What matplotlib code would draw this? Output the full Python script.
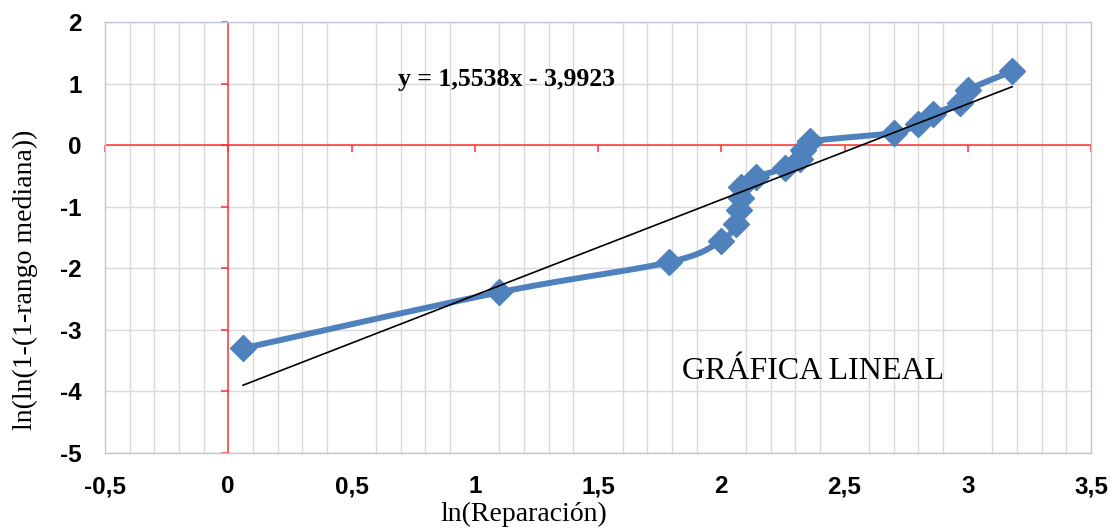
import numpy as np
import matplotlib
matplotlib.use('Agg')
import matplotlib.pyplot as plt
from matplotlib.path import Path

# ln(repair time) and ln(ln(1/(1-median rank)))
ln_reparacion = [0.06, 1.10, 1.79, 2.00, 2.06, 2.07, 2.08, 2.08, 2.14, 2.26,
                 2.32, 2.33, 2.36, 2.70, 2.80, 2.86, 2.97, 3.00, 3.18]
ln_rango = [-3.30, -2.39, -1.90, -1.55, -1.28, -1.06, -0.86, -0.68, -0.52, -0.37,
            -0.22, -0.08, 0.06, 0.20, 0.35, 0.51, 0.68, 0.89, 1.20]

# trend line shown on the chart
slope = 1.5538
intercept = -3.9923
equation = 'y = 1,5538x - 3,9923'

x_ticks = [-0.5, 0, 0.5, 1, 1.5, 2, 2.5, 3, 3.5]
x_tick_labels = ['-0,5', '0', '0,5', '1', '1,5', '2', '2,5', '3', '3,5']
y_ticks = [-5, -4, -3, -2, -1, 0, 1, 2]
y_tick_labels = ['-5', '-4', '-3', '-2', '-1', '0', '1', '2']

BLUE = '#4F81BD'
RED = '#FF3030'
GRID = '#D9D9D9'
BORDER = '#BCC8DA'


def smooth(xs, ys, steps=25):
    # excel-like smoothed line (bezier through every point)
    pts = np.column_stack([xs, ys])
    p = np.vstack([pts[0], pts, pts[-1]])
    out = []
    t = np.linspace(0, 1, steps)[:, None]
    for i in range(1, len(p) - 2):
        p0, p1, p2, p3 = p[i - 1], p[i], p[i + 1], p[i + 2]
        c1 = p1 + (p2 - p0) / 6
        c2 = p2 - (p3 - p1) / 6
        seg = (1 - t)**3 * p1 + 3 * (1 - t)**2 * t * c1 + 3 * (1 - t) * t**2 * c2 + t**3 * p2
        out.append(seg)
    return np.vstack(out)


fig = plt.figure(figsize=(11.19, 5.28), dpi=100)
ax = fig.add_axes([105 / 1119, 1 - 453 / 528, (1091 - 105) / 1119, (453 - 22) / 528])

ax.set_xlim(-0.5, 3.5)
ax.set_ylim(-5, 2)

# grid
ax.set_xticks(np.arange(-0.5, 3.51, 0.1), minor=True)
ax.grid(True, which='minor', axis='x', color=GRID, lw=1)
ax.grid(True, which='major', axis='y', color=GRID, lw=1)
ax.set_axisbelow(True)
for s in ax.spines.values():
    s.set_color(BORDER)
    s.set_linewidth(1)

ax.set_xticks(x_ticks)
ax.set_xticklabels(x_tick_labels)
ax.set_yticks(y_ticks)
ax.set_yticklabels(y_tick_labels)
ax.tick_params(which='both', length=0)
ax.tick_params(axis='x', pad=16)
ax.tick_params(axis='y', pad=17)
for lbl in ax.get_xticklabels() + ax.get_yticklabels():
    lbl.set_fontfamily('Liberation Sans')
    lbl.set_fontweight('bold')
    lbl.set_fontsize(17.5)

# red axes through the origin with their small ticks
ax.axhline(0, color=RED, lw=1.1, zorder=1.5)
ax.axvline(0, color=RED, lw=1.1, zorder=1.5)
tick_left = Path([(-1, 0), (0, 0)], [Path.MOVETO, Path.LINETO])
tick_down = Path([(0, -1), (0, 0)], [Path.MOVETO, Path.LINETO])
ax.plot([0] * len(y_ticks), y_ticks, ls='none', marker=tick_left, ms=10,
        mec=RED, mew=1.1, clip_on=False, zorder=1.5)
ax.plot(x_ticks, [0] * len(x_ticks), ls='none', marker=tick_down, ms=10,
        mec=RED, mew=1.1, clip_on=False, zorder=1.5)

# data series
curve = smooth(ln_reparacion, ln_rango)
ax.plot(curve[:, 0], curve[:, 1], color=BLUE, lw=4.3, solid_capstyle='round', zorder=3)
ax.plot(ln_reparacion, ln_rango, ls='none', marker='D', ms=13, color=BLUE, zorder=3)

# linear trend
tx = np.array([min(ln_reparacion), max(ln_reparacion)])
ax.plot(tx, slope * tx + intercept, color='black', lw=1.2, zorder=4)

ax.text(0.69, 1.06, equation, fontfamily='Liberation Serif', fontweight='bold',
        fontsize=18.5, va='center', ha='left')
ax.text(1.84, -3.68, 'GRÁFICA LINEAL', fontfamily='Liberation Serif',
        fontsize=23, va='center', ha='left')

fig.text(524 / 1119, 1 - 514 / 528, 'ln(Reparación)', fontfamily='Liberation Serif',
         fontsize=20, ha='center', va='center',
         bbox=dict(facecolor='white', edgecolor='none', pad=1))
fig.text(25 / 1119, 1 - 280 / 528, 'ln(ln(1-(1-rango mediana))', fontfamily='Liberation Serif',
         fontsize=20, ha='center', va='center', rotation=90,
         bbox=dict(facecolor='white', edgecolor='none', pad=1))

fig.savefig('out.png', dpi=100)
